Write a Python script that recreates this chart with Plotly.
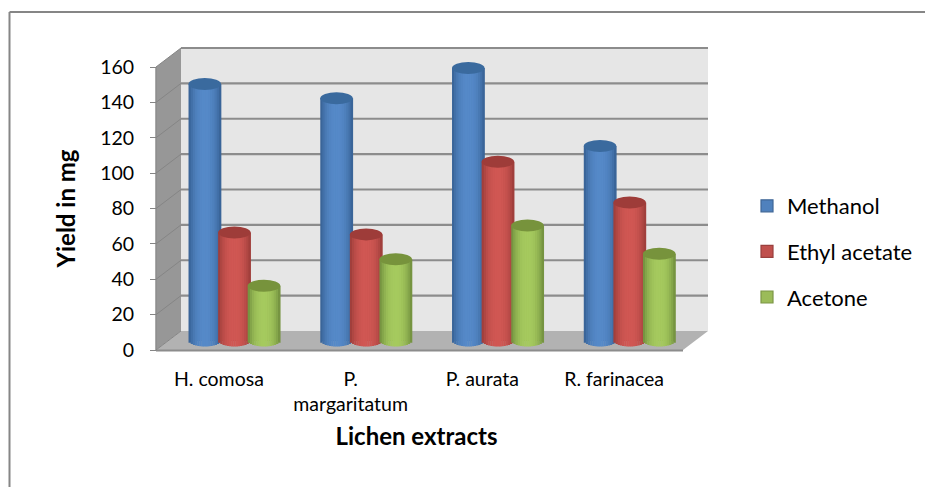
import math
import plotly.graph_objects as go

categories = ["H. comosa", "P.<br>margaritatum", "P. aurata", "R. farinacea"]
methanol = [145, 137, 154, 110]
ethyl_acetate = [61, 60, 101, 78]
acetone = [31, 46, 65, 49]
y_ticks = [0, 20, 40, 60, 80, 100, 120, 140, 160]

W, H = 925, 487
FONT = "Lato"
def px(v): return v / W
def py(v): return 1 - v / H

series = [
    ("Methanol", methanol, -1, "#4F81BD", (0x35, 0x5F, 0x91), (0x55, 0x89, 0xC8), "#3A6A9E", "#3F6797"),
    ("Ethyl acetate", ethyl_acetate, 0, "#C0504D", (0x98, 0x3B, 0x38), (0xD0, 0x57, 0x53), "#9E3C39", "#9A403E"),
    ("Acetone", acetone, 1, "#9BBB59", (0x6D, 0x8A, 0x3C), (0xA5, 0xCA, 0x5E), "#77933C", "#7C9647"),
]

# Geometry of the pseudo-3D box (pixels)
FX0, FX1 = 156, 683       # front plane
Y0, Y160 = 350, 67
DX, DY = 25, -19          # depth vector to back wall
MID_X, MID_Y = DX / 2, DY / 2
SCALE = (Y0 - Y160) / 160
ROOM = 10                 # value units of spare room under zero on the bar axis

fig = go.Figure()

PITCH = 29.6 / 131.75
DIAM = 32.5 / 131.75
NSTRIP = 15
KY = 6 / SCALE            # ellipse half-height in value units

# keeps the front axes alive (they carry the tick labels and titles)
fig.add_trace(go.Scatter(
    x=list(range(4)), y=methanol, xaxis="x", yaxis="y", mode="markers",
    marker=dict(opacity=0, size=1), showlegend=False, hoverinfo="skip",
))

for name, vals, slot, col, edge, centre, top, linecol in series:
    # base trace carries the legend entry
    fig.add_trace(go.Bar(
        x=list(range(4)), y=vals, name=name, xaxis="x2", yaxis="y2",
        width=DIAM * 0.9, offset=slot * PITCH - DIAM * 0.45,
        marker=dict(color=col, line=dict(color=linecol, width=1.2)),
        legendgroup=name, showlegend=True, hoverinfo="skip",
    ))
    for s in range(NSTRIP):
        a = -1 + 2 * (s + 0.5) / NSTRIP
        dip = math.sqrt(max(0, 1 - a * a))
        t = abs(a) ** 2.4
        rgb = tuple(round(centre[i] + (edge[i] - centre[i]) * t) for i in range(3))
        fig.add_trace(go.Bar(
            x=list(range(4)), y=[v + KY * dip for v in vals], base=[-KY * dip] * 4,
            xaxis="x2", yaxis="y2",
            width=DIAM / NSTRIP * 1.15,
            offset=slot * PITCH + a * DIAM / 2 - DIAM / NSTRIP / 2,
            marker=dict(color="rgb(%d,%d,%d)" % rgb, line=dict(width=0)),
            legendgroup=name, showlegend=False, hoverinfo="skip",
        ))

shapes = []
def poly(pts, fill):
    d = "M" + " L".join(f"{px(x):.5f},{py(y):.5f}" for x, y in pts) + " Z"
    shapes.append(dict(type="path", path=d, xref="paper", yref="paper", fillcolor=fill,
                       line=dict(width=0), layer="below"))
def seg(x0, y0, x1, y1, col="#888888", w=2):
    shapes.append(dict(type="line", xref="paper", yref="paper", x0=px(x0), y0=py(y0),
                       x1=px(x1), y1=py(y1), line=dict(color=col, width=w), layer="below"))

# outer chart frame: left and top only
seg(9.5, 12, 9.5, H, "#868686", 2)
seg(9.5, 12, W, 12, "#868686", 2)
# walls and floor
poly([(FX0 + DX, Y160 + DY), (FX1 + DX, Y160 + DY), (FX1 + DX, Y0 + DY), (FX0 + DX, Y0 + DY)], "#E6E6E6")
poly([(FX0, Y160), (FX0 + DX, Y160 + DY), (FX0 + DX, Y0 + DY), (FX0, Y0)], "#979797")
poly([(FX0, Y0), (FX0 + DX, Y0 + DY), (FX1 + DX, Y0 + DY), (FX1, Y0)], "#B2B2B2")
seg(FX0, Y0 + 0.5, FX1, Y0 + 0.5, "#8C8C8C", 2)
seg(FX0, Y160, FX0, Y0, "#8C8C8C", 1.5)
for v in y_ticks:
    y = Y0 - v * SCALE
    seg(FX0, y, FX0 + DX, y + DY, "#858585", 1)
    if v:
        seg(FX0 + DX, y + DY, FX1 + DX, y + DY, "#8C8C8C", 2.2)

# cylinder top caps, positioned from the data
for name, vals, slot, col, edge, centre, top, linecol in series:
    for i, v in enumerate(vals):
        c = i + slot * PITCH
        shapes.append(dict(type="circle", xref="x2", yref="y2",
                           x0=c - DIAM / 2, x1=c + DIAM / 2, y0=v - KY, y1=v + KY,
                           fillcolor=top, line=dict(width=0), layer="above"))

fig.update_layout(
    width=W, height=H, margin=dict(l=0, r=0, t=0, b=0, pad=0, autoexpand=False),
    paper_bgcolor="white", plot_bgcolor="rgba(0,0,0,0)",
    barmode="overlay", shapes=shapes,
    font=dict(family=FONT, color="#000000"),
    xaxis=dict(
        domain=[px(FX0 - 3), px(FX1 - 3)], range=[-0.5, 3.5], automargin=False,
        tickmode="array", tickvals=list(range(4)), ticktext=categories,
        tickfont=dict(size=19.5), ticklabelstandoff=15, ticks="", showgrid=False,
        zeroline=False, showline=False,
        title=dict(text="<b>Lichen extracts</b>", font=dict(size=24), standoff=14),
        anchor="y", fixedrange=True,
    ),
    yaxis=dict(
        domain=[py(Y0), py(Y160)], range=[0, 160], tickvals=y_ticks, automargin=False,
        tickfont=dict(size=19.5), ticks="outside", ticklen=6, tickcolor="#858585", tickwidth=1,
        ticklabelstandoff=12,
        showgrid=False, zeroline=False, showline=False,
        title=dict(text="<b>Yield in mg</b>", font=dict(size=24), standoff=16),
        anchor="free", position=px(FX0), fixedrange=True,
    ),
    xaxis2=dict(
        domain=[px(FX0 + MID_X), px(FX1 + MID_X)], range=[-0.5, 3.5], automargin=False,
        visible=False, anchor="y2", fixedrange=True,
    ),
    yaxis2=dict(
        domain=[py(Y0 + MID_Y + ROOM * SCALE), py(Y160 + MID_Y)], range=[-ROOM, 160], automargin=False,
        visible=False, anchor="x2", fixedrange=True,
    ),
    legend=dict(
        x=px(747), y=py(185), xanchor="left", yanchor="top",
        font=dict(size=22), tracegroupgap=14, itemwidth=30,
        traceorder="grouped", bgcolor="rgba(0,0,0,0)", itemclick=False, itemdoubleclick=False,
    ),
    showlegend=True,
)

fig.write_html("out.html", config=dict(displayModeBar=False),
               post_script="document.body.style.margin='0';")
